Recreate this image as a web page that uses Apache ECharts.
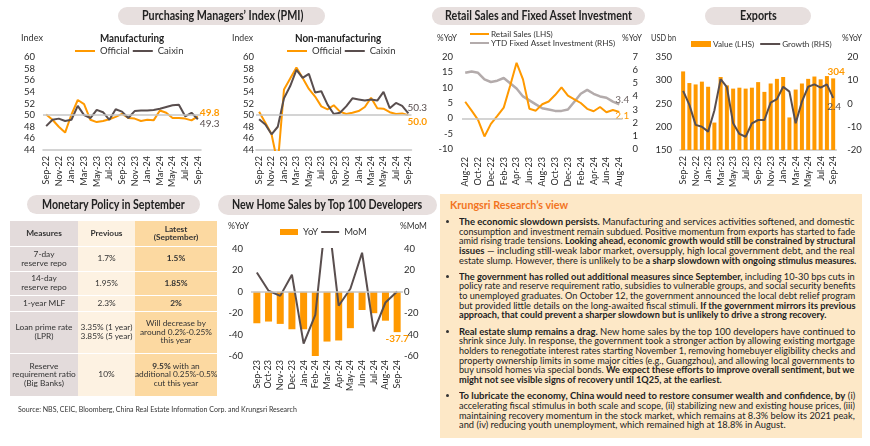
<!DOCTYPE html>
<html>
<head>
<meta charset="utf-8">
<script src="https://cdn.jsdelivr.net/npm/echarts/dist/echarts.min.js"></script>
<style>
html,body{margin:0;padding:0;background:#fff;}
#wrap{position:relative;width:870px;height:446px;overflow:hidden;font-family:Lato,'Liberation Sans',sans-serif;color:#262626;}
#chart{position:absolute;left:0;top:0;width:870px;height:446px;}
.t{position:absolute;white-space:nowrap;transform-origin:0 50%;}
.box{position:absolute;}
#mp{position:absolute;left:10px;top:221px;width:207px;border-collapse:collapse;table-layout:fixed;font-size:8.3px;line-height:8.6px;color:#333;}
#mp td{padding:0;text-align:center;vertical-align:middle;border-top:1.5px solid #fff;white-space:nowrap;overflow:visible;}
#mp tr:first-child td{border-top:none;}
.a{background:#e3dbdb;} .b{background:#fdf2e2;} .c{background:#fcd9a1;}
</style>
</head>
<body>
<div id="wrap">
<div id="chart"></div>
</div>
<script>
// ---------------- DATA ----------------
const pmiMonths = ['Sep-22','Oct-22','Nov-22','Dec-22','Jan-23','Feb-23','Mar-23','Apr-23','May-23','Jun-23','Jul-23','Aug-23','Sep-23','Oct-23','Nov-23','Dec-23','Jan-24','Feb-24','Mar-24','Apr-24','May-24','Jun-24','Jul-24','Aug-24','Sep-24'];
const mfgOfficial = [50.1,49.2,48.0,47.0,50.1,52.6,51.9,49.2,48.8,49.0,49.3,49.7,50.2,49.5,49.4,49.0,49.2,49.1,50.8,50.4,49.5,49.5,49.4,49.1,49.8];
const mfgCaixin   = [48.1,49.2,49.4,49.0,49.2,51.6,50.0,49.5,50.9,50.5,49.2,51.0,50.6,49.5,50.7,50.8,50.8,50.9,51.1,51.4,51.7,51.8,49.8,50.4,49.3];
const nonOfficial = [50.6,48.7,46.7,41.6,54.4,56.3,58.2,56.4,54.5,53.2,51.5,51.0,51.7,50.6,50.2,50.4,50.7,51.4,53.0,51.2,51.1,50.5,50.2,50.3,50.0];
const nonCaixin   = [49.3,48.4,46.7,48.0,52.9,55.0,57.8,56.4,57.1,53.9,54.1,51.8,50.2,50.4,51.5,52.9,52.7,52.5,52.7,52.5,54.0,51.2,52.1,51.6,50.3];

const retailMonths = ['Aug-22','Sep-22','Oct-22','Nov-22','Dec-22','Jan-23','Feb-23','Mar-23','Apr-23','May-23','Jun-23','Jul-23','Aug-23','Sep-23','Oct-23','Nov-23','Dec-23','Jan-24','Feb-24','Mar-24','Apr-24','May-24','Jun-24','Jul-24','Aug-24'];
const retailSales = [5.4,2.5,-0.5,-5.9,-1.8,0.8,3.5,10.6,18.1,12.7,3.1,2.5,4.6,5.5,7.6,10.1,7.4,6.2,5.0,3.1,2.3,3.7,2.0,2.7,2.1];
const ytdFai      = [5.8,5.9,5.8,5.3,5.1,5.2,5.4,5.0,4.6,4.0,3.7,3.4,3.1,3.0,2.9,2.9,3.0,3.6,4.2,4.5,4.2,4.0,3.9,3.6,3.4];

const exportMonths = ['Sep-22','Oct-22','Nov-22','Dec-22','Jan-23','Feb-23','Mar-23','Apr-23','May-23','Jun-23','Jul-23','Aug-23','Sep-23','Oct-23','Nov-23','Dec-23','Jan-24','Feb-24','Mar-24','Apr-24','May-24','Jun-24','Jul-24','Aug-24','Sep-24'];
const exportValue  = [319,294,291,297,286,209,307,289,282,284,282,284,296,275,293,303,307,220,280,293,303,308,302,309,304];
const exportGrowth = [5.4,-0.6,-9.2,-10.0,-12.1,-3.0,10.5,7.0,-8.5,-13.1,-14.3,-8.5,-7.1,-7.1,0.4,1.9,7.2,5.1,-8.5,0.8,7.2,8.2,6.8,8.2,2.4];

const homeMonths = ['Sep-23','Oct-23','Nov-23','Dec-23','Jan-24','Feb-24','Mar-24','Apr-24','May-24','Jun-24','Jul-24','Aug-24','Sep-24'];
const homeYoY = [-29.4,-27.8,-30.0,-35.0,-35.0,-60.5,-46.5,-45.5,-34.0,-17.0,-20.0,-27.0,-37.7];
const homeMoM = [18.0,1.0,-3.8,16.0,-48.5,-21.5,80.0,-13.0,2.8,36.5,-37.0,-10.0,0.3];

const pmiTicks = {min:44, max:60, interval:2};
const retailTicksL = {min:-10, max:20, interval:5};
const retailTicksR = {min:0, max:7, interval:1};
const exportTicksL = {min:150, max:350, interval:50};
const exportTicksR = {min:-20, max:20, interval:10};
const homeTicks = {min:-60, max:40, interval:20};

// ---------------- STYLE ----------------
const ORANGE = '#ff9900', DARK = '#594e4e', GREY = '#b3abab', TXT = '#2b2b2b', AXIS = '#c6c6c6';
const FONT = 'Lato';
const LINE_ICON = 'path://M0,0L0.01,0L0,0.01Z M0,2.1h20v1.8h-20z M0,6L0.01,6L0,5.99Z';
const wrap = document.getElementById('wrap');

function xAx(gi, data, showLine, margin, interval){
  return {type:'category', gridIndex:gi, data:data, boundaryGap:true,
    axisTick:{show:false},
    axisLine:{show:showLine, onZero:false, lineStyle:{color:AXIS, width:1.5}},
    axisLabel:{color:TXT, fontSize:9, fontFamily:FONT, rotate:90, interval:interval, margin:margin},
    splitLine:{show:false}};
}
function yAx(gi, t, pos, margin){
  return {type:'value', gridIndex:gi, min:t.min, max:t.max, interval:t.interval, position:pos,
    axisLine:{show:false}, axisTick:{show:false}, splitLine:{show:false},
    axisLabel:{color:TXT, fontSize:9.5, fontFamily:FONT, margin:margin}};
}
function hLine(v){
  return {silent:true, symbol:'none', animation:false, label:{show:false},
    lineStyle:{color:AXIS, width:1.5, type:'solid'}, data:[{yAxis:v}]};
}
function line(name, xi, yi, data, color, width, endLbl){
  const s = {name:name, type:'line', xAxisIndex:xi, yAxisIndex:yi, data:data, symbol:'none', showSymbol:false,
    color:color, lineStyle:{color:color, width:width||2}, itemStyle:{color:color}, clip:true, z:3};
  if (endLbl) {
    s.endLabel = Object.assign({show:true, fontFamily:FONT, fontSize:10, color:color, distance:2,
      formatter: p => Number(Array.isArray(p.value)?p.value[1]:p.value).toFixed(1)}, endLbl);
  }
  return s;
}
function li(name){ return {name:name, icon:LINE_ICON}; }
function lg(data, left, top, extra){
  return Object.assign({data:data, left:left, top:top, itemWidth:20, itemHeight:6, itemGap:3, padding:0,
    symbolKeepAspect:false, selectedMode:false, textStyle:{fontSize:9.5, color:'#333', fontFamily:FONT}}, extra||{});
}

const gridDefs = [
  {left:43, top:57, width:158, height:93},
  {left:256, top:57, width:155.5, height:93},
  {left:462, top:57, width:160.5, height:92},
  {left:680, top:57, width:156.3, height:93},
  {left:251, top:249, width:152, height:107}
].map(g => Object.assign({outerBoundsMode:'none', containLabel:false, show:false}, g));

const expData = exportValue.map((v,i) => i === exportValue.length-1 ?
  {value:v, label:{show:true, position:'top', distance:2, offset:[3,0], color:ORANGE, fontWeight:'bold', fontSize:10, fontFamily:FONT}} : v);
const yoyData = homeYoY.map((v,i) => i === homeYoY.length-1 ?
  {value:v, label:{show:true, position:'bottom', distance:2, color:ORANGE, fontWeight:'bold', fontSize:10, fontFamily:FONT}} : v);
const momData = homeMoM.map((v,i) => i === homeMoM.length-1 ?
  {value:v, label:{show:true, position:'top', distance:1, offset:[-1,0], color:DARK, fontSize:10, fontFamily:FONT}} : v);

const smallLegendText = {fontSize:8.2, color:'#333', fontFamily:FONT, padding:[0,0,0,-3]};
const option = {
  animation:false,
  backgroundColor:'#fff',
  grid: gridDefs,
  xAxis: [
    xAx(0, pmiMonths, true, 6, 1),
    xAx(1, pmiMonths, true, 6, 1),
    xAx(2, retailMonths, false, 8, 1),
    xAx(3, exportMonths, true, 6, 1),
    xAx(4, homeMonths, false, 4, 0)
  ],
  yAxis: [
    yAx(0, pmiTicks, 'left', 8),
    yAx(1, pmiTicks, 'left', 2),
    yAx(2, retailTicksL, 'left', 9),
    yAx(2, retailTicksR, 'right', 10),
    yAx(3, exportTicksL, 'left', 8),
    yAx(3, exportTicksR, 'right', 11),
    yAx(4, homeTicks, 'left', 8),
    yAx(4, homeTicks, 'right', 1)
  ],
  legend: [
    lg([li('Official'), li('Caixin')], 75, 46),
    lg([li('Official'), li('Caixin')], 287, 46),
    lg([li('Retail Sales (LHS)'), li('YTD Fixed Asset Investment (RHS)')], 470, 30,
       {orient:'vertical', itemGap:1, itemWidth:19, textStyle:smallLegendText}),
    lg([{name:'Value (LHS)', icon:'rect'}, li('Growth (RHS)')], 691, 40,
       {itemGap:6, textStyle:smallLegendText}),
    lg([{name:'YoY', icon:'rect'}, li('MoM')], 280, 227, {itemWidth:18})
  ],
  series: [
    Object.assign(line('Official', 0, 0, mfgOfficial, ORANGE, 2, {fontWeight:'bold', offset:[0,-4]}), {markLine:hLine(50)}),
    line('Caixin', 0, 0, mfgCaixin, DARK, 2, {offset:[0,5]}),
    Object.assign(line('Official', 1, 1, nonOfficial, ORANGE, 2, {fontWeight:'bold', offset:[-1,6.5], distance:0}), {markLine:hLine(50)}),
    line('Caixin', 1, 1, nonCaixin, DARK, 2, {offset:[-1,-6], distance:0}),
    Object.assign(line('YTD Fixed Asset Investment (RHS)', 2, 3, ytdFai, GREY, 2.5, {color:'#6e6464', offset:[-4,-5], distance:0}), {z:2}),
    Object.assign(line('Retail Sales (LHS)', 2, 2, retailSales, ORANGE, 2, {offset:[-4,4], distance:0}), {markLine:hLine(0)}),
    {name:'Value (LHS)', type:'bar', xAxisIndex:3, yAxisIndex:4, data:expData, barWidth:'64%', itemStyle:{color:ORANGE}, color:ORANGE},
    line('Growth (RHS)', 3, 5, exportGrowth, DARK, 2, {offset:[-6,9], distance:0}),
    {name:'YoY', type:'bar', xAxisIndex:4, yAxisIndex:6, data:yoyData, barWidth:'60%', itemStyle:{color:ORANGE}, color:ORANGE, markLine:hLine(0)},
    line('MoM', 4, 7, momData, DARK, 2, null)
  ]
};
const chart = echarts.init(document.getElementById('chart'));
chart.setOption(option);

// ---------------- STATIC TEXT & PANELS ----------------
function addBox(x, y, w, h, color, r){
  const d = document.createElement('div');
  d.className = 'box';
  d.style.cssText = `left:${x}px;top:${y}px;width:${w}px;height:${h}px;background:${color};border-radius:${r||0}px;`;
  wrap.appendChild(d); return d;
}
function addText(html, x, y, o){
  o = o || {};
  const d = document.createElement('div');
  d.className = 't';
  const size = o.size || 10;
  d.style.fontSize = size + 'px';
  d.style.lineHeight = Math.round(size*1.25) + 'px';
  if (o.bold) d.style.fontWeight = 'bold';
  d.style.color = o.color || '#222';
  d.innerHTML = html;
  wrap.appendChild(d);
  const nat = d.offsetWidth, h = d.offsetHeight;
  const s = o.w ? o.w / nat : (o.scale || 1);
  let left = x;
  if (o.align === 'center') left = x - nat*s/2;
  else if (o.align === 'right') left = x - nat*s;
  d.style.left = left + 'px';
  d.style.top = (y - h/2) + 'px';
  d.style.transform = 'scaleX(' + s + ')';
  return s;
}

const PILL = '#e7dfde';
addBox(118, 7, 207, 18, PILL, 9);
addBox(432, 7, 213, 18, PILL, 9);
addBox(705, 7, 106, 18, PILL, 9);
addBox(27, 195, 173, 19, PILL, 9.5);
addBox(218, 195, 219, 20, PILL, 10);
addText('Purchasing Managers’ Index (PMI)', 222.5, 16, {size:12.5, bold:true, align:'center', w:161});
addText('Retail Sales and Fixed Asset Investment', 538.5, 16, {size:12.5, bold:true, align:'center', w:187});
addText('Exports', 758.5, 16, {size:12.5, bold:true, align:'center', w:37});
addText('Monetary Policy in September', 113.5, 205, {size:12.5, bold:true, align:'center', w:143});
addText('New Home Sales by Top 100 Developers', 327, 205, {size:12.5, bold:true, align:'center', w:190});

addText('Index', 21, 37, {size:10, w:22, color:'#333'});
addText('Manufacturing', 132, 37.5, {size:11, bold:true, align:'center', w:64});
addText('Index', 232, 37, {size:10, w:21, color:'#333'});
addText('Non-manufacturing', 338, 37.5, {size:11, bold:true, align:'center', w:86});
addText('%YoY', 437, 37, {size:10, w:20, color:'#333'});
addText('%YoY', 622, 37, {size:10, w:20, color:'#333'});
addText('USD bn', 651, 37, {size:10, w:25, color:'#333'});
addText('%YoY', 842, 37, {size:10, w:20, color:'#333'});
addText('%YoY', 228, 225, {size:10, w:21, color:'#333'});
addText('%MoM', 400, 225, {size:10, w:27, color:'#333'});

// Monetary policy table
const tbl = document.createElement('table');
tbl.id = 'mp';
tbl.innerHTML = `
<colgroup><col style="width:68px"><col style="width:57px"><col style="width:82px"></colgroup>
<tr style="height:25px"><td class="a"><b>Measures</b></td><td class="b"><b>Previous</b></td><td class="c"><b>Latest<br>(September)</b></td></tr>
<tr style="height:25px"><td class="a">7-day<br>reserve repo</td><td class="b">1.7%</td><td class="c"><b>1.5%</b></td></tr>
<tr style="height:24px"><td class="a">14-day<br>reserve repo</td><td class="b">1.95%</td><td class="c"><b>1.85%</b></td></tr>
<tr style="height:16px"><td class="a">1-year MLF</td><td class="b">2.3%</td><td class="c"><b>2%</b></td></tr>
<tr style="height:42px"><td class="a">Loan prime rate<br>(LPR)</td><td class="b">3.35% (1 year)<br>3.85% (5 year)</td><td class="c">Will decrease by<br>around 0.2%-0.25%<br>this year</td></tr>
<tr style="height:43px"><td class="a">Reserve<br>requirement ratio<br>(Big Banks)</td><td class="b">10%</td><td class="c"><b>9.5%</b> with an<br>additional 0.25%-0.5%<br>cut this year</td></tr>`;
wrap.appendChild(tbl);

addText('Source: NBS, CEIC, Bloomberg, China Real Estate Information Corp. and Krungsri Research', 18, 409, {size:8, w:279, color:'#333'});

// Krungsri panel
addBox(440, 194, 422, 244, '#fde8c7', 0);
addText('Krungsri Research’s view', 450, 204.5, {size:11, bold:true, color:'#f2741f', w:118});

const panelParas = [
 ['<b>The economic slowdown persists.</b> Manufacturing and services activities softened, and domestic',
  'consumption and investment remain subdued. Positive momentum from exports has started to fade',
  'amid rising trade tensions. <b>Looking ahead, economic growth would still be constrained by structural</b>',
  '<b>issues</b> — including still-weak labor market, oversupply, high local government debt, and the real',
  'estate slump. However, there is unlikely to be <b>a sharp slowdown with ongoing stimulus measures.</b>'],
 ['<b>The government has rolled out additional measures since September,</b> including 10-30 bps cuts in',
  'policy rate and reserve requirement ratio, subsidies to vulnerable groups, and social security benefits',
  'to unemployed graduates. On October 12, the government announced the local debt relief program',
  'but provided little details on the long-awaited fiscal stimuli. <b>If the government mirrors its previous</b>',
  '<b>approach, that could prevent a sharper slowdown but is unlikely to drive a strong recovery.</b>'],
 ['<b>Real estate slump remains a drag.</b> New home sales by the top 100 developers have continued to',
  'shrink since July. In response, the government took a stronger action by allowing existing mortgage',
  'holders to renegotiate interest rates starting November 1, removing homebuyer eligibility checks and',
  'property ownership limits in some major cities (e.g., Guangzhou), and allowing local governments to',
  'buy unsold homes via special bonds. <b>We expect these efforts to improve overall sentiment, but we</b>',
  '<b>might not see visible signs of recovery until 1Q25, at the earliest.</b>'],
 ['<b>To lubricate the economy, China would need to restore consumer wealth and confidence, by</b> (i)',
  'accelerating fiscal stimulus in both scale and scope, (ii) stabilizing new and existing house prices, (iii)',
  'maintaining recovery momentum in the stock market, which remains at 8.3% below its 2021 peak,',
  'and (iv) reducing youth unemployment, which remained high at 18.8% in August.']
];
const paraTop = [221.5, 276, 331, 395.7];
const LH = 9.7;
panelParas.forEach((lines, pi) => {
  const y0 = paraTop[pi];
  addBox(445.5, y0 - 1.5, 3, 3, '#333', 1.5);
  const scales = [];
  lines.forEach((ln, li2) => {
    if (li2 < lines.length - 1) scales.push(addText(ln, 459, y0 + li2*LH, {size:8.8, color:'#222', w:396}));
  });
  const avg = scales.reduce((a,b)=>a+b,0)/scales.length;
  addText(lines[lines.length-1], 459, y0 + (lines.length-1)*LH, {size:8.8, color:'#222', scale:avg});
});
</script>
</body>
</html>
